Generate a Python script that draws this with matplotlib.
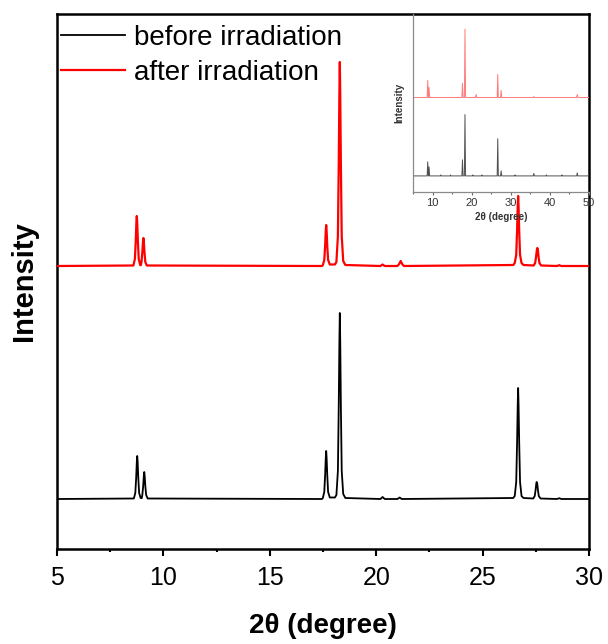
import matplotlib
matplotlib.use("Agg")
import matplotlib.pyplot as plt
from matplotlib.ticker import MultipleLocator

plt.rcParams['font.family'] = ['Liberation Sans', 'DejaVu Sans']

# ---------------- data (main panel, 2theta vs intensity, arbitrary units) ----------------
before_x = [5.0, 8.61, 8.68, 8.72, 8.75, 8.77, 8.79, 8.82, 8.86, 8.93,
            8.98, 9.01, 9.05, 9.08, 9.10, 9.12, 9.15, 9.19, 9.26,
            17.45, 17.49, 17.56, 17.60, 17.63, 17.65, 17.67, 17.70, 17.74, 17.82,
            18.06, 18.13, 18.20, 18.24, 18.27, 18.29, 18.31, 18.34, 18.38, 18.45, 18.55,
            20.20, 20.30, 20.40, 21.00, 21.10, 21.20,
            26.44, 26.51, 26.58, 26.62, 26.65, 26.67, 26.69, 26.72, 26.76, 26.83, 26.92,
            27.38, 27.45, 27.49, 27.52, 27.54, 27.57, 27.60, 27.64, 27.72,
            28.50, 28.60, 28.70, 30.0]
before_y = [0.0, 0.5, 6, 21, 37, 43, 37, 21, 6, 1,
            0.8, 4, 13, 23, 27, 23, 13, 4, 0.5,
            0.0, 0.8, 7, 24, 41, 48, 41, 24, 7, 1.5,
            1.5, 4, 28, 93, 158, 186, 158, 93, 28, 5, 1,
            0.0, 2.0, 0.0, 0.0, 1.5, 0.0,
            1, 3, 17, 56, 94, 111, 94, 56, 17, 3, 1,
            0.5, 3, 9, 15, 17, 15, 9, 3, 0.5,
            0.0, 0.8, 0.0, 0.0]

after_x = [5.0, 8.59, 8.66, 8.70, 8.73, 8.75, 8.77, 8.80, 8.84, 8.91,
           8.94, 8.97, 9.01, 9.04, 9.06, 9.08, 9.11, 9.15, 9.22,
           17.45, 17.49, 17.56, 17.60, 17.63, 17.65, 17.67, 17.70, 17.74, 17.82,
           18.06, 18.13, 18.20, 18.24, 18.27, 18.29, 18.31, 18.34, 18.38, 18.45, 18.55,
           20.20, 20.30, 20.40, 21.00, 21.08, 21.15, 21.22, 21.30,
           26.44, 26.51, 26.58, 26.62, 26.65, 26.67, 26.69, 26.72, 26.76, 26.83, 26.92,
           27.40, 27.47, 27.51, 27.55, 27.57, 27.60, 27.63, 27.67, 27.75,
           28.50, 28.60, 28.70, 30.0]
after_y = [0.0, 0.5, 7, 25, 43, 50, 43, 25, 7, 1,
           0.8, 4, 14, 24, 28, 24, 14, 4, 0.5,
           0.0, 0.7, 6, 20, 35, 41, 35, 20, 6, 1.5,
           1.5, 4, 30, 102, 173, 204, 173, 102, 30, 5, 1,
           0.0, 1.5, 0.0, 0.0, 2.0, 5.0, 2.0, 0.0,
           1, 3, 11, 35, 60, 70, 60, 35, 11, 3, 1,
           0.5, 3, 9, 16, 18, 16, 9, 3, 0.5,
           0.0, 0.8, 0.0, 0.0]
after_offset = 233

# ---------------- data (inset, full 5-50 degree range) ----------------
inset_before_x = [5.0, 8.62, 8.77, 8.92, 8.97, 9.10, 9.25, 12.0, 12.1, 12.2, 14.5, 14.6, 14.7,
                  17.50, 17.65, 17.80, 18.14, 18.29, 18.44, 20.2, 20.3, 20.4, 22.5, 22.6, 22.7,
                  26.52, 26.67, 26.82, 27.39, 27.54, 27.69, 31.0, 31.1, 31.2,
                  35.75, 35.90, 36.05, 39.0, 39.1, 39.2, 43.0, 43.1, 43.2,
                  46.85, 47.00, 47.15, 50.0]
inset_before_y = [0.0, 0.0, 14, 0.0, 0.0, 9, 0.0, 0.0, 1.0, 0.0, 0.0, 1.0, 0.0,
                  0.0, 16, 0.0, 0.0, 61, 0.0, 0.0, 1.0, 0.0, 0.0, 1.0, 0.0,
                  0.0, 37, 0.0, 0.0, 5, 0.0, 0.0, 1.0, 0.0,
                  0.0, 2.5, 0.0, 0.0, 1.0, 0.0, 0.0, 1.0, 0.0,
                  0.0, 3, 0.0, 0.0]

inset_after_x = [5.0, 8.62, 8.77, 8.92, 8.97, 9.10, 9.25,
                 17.50, 17.65, 17.80, 18.14, 18.29, 18.44, 21.0, 21.15, 21.3,
                 26.52, 26.67, 26.82, 27.39, 27.54, 27.69,
                 35.75, 35.90, 36.05, 46.85, 47.00, 47.15, 50.0]
inset_after_y = [0.0, 0.0, 17, 0.0, 0.0, 10, 0.0,
                 0.0, 14, 0.0, 0.0, 68, 0.0, 0.0, 3, 0.0,
                 0.0, 23, 0.0, 0.0, 7, 0.0,
                 0.0, 1, 0.0, 0.0, 3, 0.0, 0.0]
inset_after_offset = 78

labels = ["before irradiation", "after irradiation"]
xticks_main = [5, 10, 15, 20, 25, 30]
xticks_inset = [10, 20, 30, 40, 50]

# ---------------- figure ----------------
W, H = 608, 644
fig = plt.figure(figsize=(W / 100, H / 100), dpi=100)

L, R, T, B = 57, 589, 14, 549
ax = fig.add_axes([L / W, 1 - B / H, (R - L) / W, (B - T) / H])

ax.plot(before_x, before_y, color='black', lw=1.3, label=labels[0], zorder=3)
ax.plot(after_x, [v + after_offset for v in after_y], color='#ff0000', lw=1.6,
        label=labels[1], zorder=3)

ax.set_xlim(5, 30)
ax.set_ylim(-50, 485)
ax.set_xticks(xticks_main)
ax.xaxis.set_minor_locator(MultipleLocator(2.5))
ax.set_yticks([])
ax.tick_params(axis='x', which='major', direction='out', length=5, width=1.5,
               labelsize=18, pad=7)
ax.tick_params(axis='x', which='minor', direction='out', length=2.5, width=1.5)
for s in ax.spines.values():
    s.set_linewidth(1.8)
    s.set_color('black')

ax.set_xlabel("2θ (degree)", fontsize=20, fontweight='bold', labelpad=17)
ax.set_ylabel("Intensity", fontsize=21, fontweight='bold', labelpad=14)

leg = ax.legend(loc='upper left', bbox_to_anchor=(61 / W, 1 - 25 / H),
                bbox_transform=fig.transFigure, frameon=False, fontsize=20,
                handlelength=2.3, handletextpad=0.31, labelspacing=0.32,
                borderpad=0, borderaxespad=0)

# ---------------- inset ----------------
iL, iR, iT, iB = 413, 589, 14, 192
ins = fig.add_axes([iL / W, 1 - iB / H, (iR - iL) / W, (iB - iT) / H])
ins.patch.set_facecolor('none')
ins.plot(inset_before_x, inset_before_y, color='#505050', lw=0.7)
ins.plot(inset_after_x, [v + inset_after_offset for v in inset_after_y],
         color='#ff7a7a', lw=0.7)
ins.set_xlim(5, 50)
ins.set_ylim(-16, 161)
ins.set_xticks(xticks_inset)
ins.xaxis.set_minor_locator(MultipleLocator(5))
ins.set_yticks([])
ins.spines['top'].set_visible(False)
ins.spines['right'].set_visible(False)
for k in ('left', 'bottom'):
    ins.spines[k].set_color('#8a8a8a')
    ins.spines[k].set_linewidth(0.9)
ins.tick_params(axis='x', which='major', direction='out', length=2.5, width=0.8,
                color='#6a6a6a', labelsize=8, labelcolor='#333333', pad=2)
ins.tick_params(axis='x', which='minor', direction='out', length=1.5, width=0.8,
                color='#6a6a6a')
ins.set_xlabel("2θ (degree)", fontsize=7, fontweight='bold', color='#333333', labelpad=3)
ins.set_ylabel("Intensity", fontsize=7, fontweight='bold', color='#333333', labelpad=6)

fig.savefig("out.png", dpi=100)
